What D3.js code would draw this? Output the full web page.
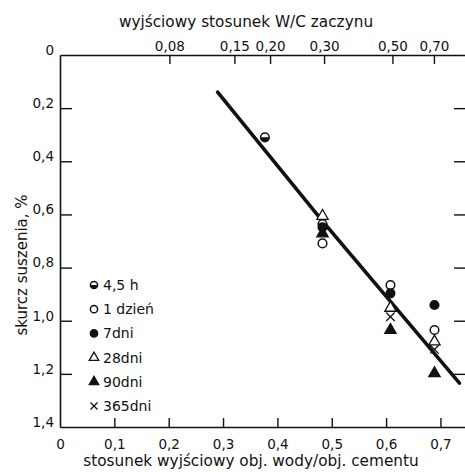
<!DOCTYPE html>
<meta charset="utf-8">
<style>
  body { margin: 0; background: #fff; }
  text { font-family: "DejaVu Sans", sans-serif; fill: #111; }
</style>
<svg width="465" height="472"></svg>
<script src="https://d3js.org/d3.v7.min.js"></script>
<script>

// bottom axis: volume ratio water/cement, top axis: initial W/C of the paste
var xTicks = [0, 0.1, 0.2, 0.3, 0.4, 0.5, 0.6, 0.7];
var yTicks = [0, 0.2, 0.4, 0.6, 0.8, 1.0, 1.2, 1.4];
var wcTicks = [0.08, 0.15, 0.20, 0.30, 0.50, 0.70];
var wcLabels = ["0,08", "0,15", "0,20", "0,30", "0,50", "0,70"];

var seriesNames = ["4,5 h", "1 dzień", "7dni", "28dni", "90dni", "365dni"];
var seriesSymbols = ["half", "open", "filled", "tri", "trifilled", "cross"];

var h45   = [[0.377, 0.31], [0.483, 0.636]];
var d1    = [[0.483, 0.709], [0.608, 0.866], [0.689, 1.035]];
var d7    = [[0.483, 0.648], [0.608, 0.897], [0.689, 0.941]];
var d28   = [[0.483, 0.606], [0.608, 0.952], [0.689, 1.079]];
var d90   = [[0.483, 0.672], [0.608, 1.035], [0.689, 1.198]];
var d365  = [[0.483, 0.662], [0.608, 0.985], [0.689, 1.108]];
var allSeries = [h45, d1, d7, d28, d90, d365];

var fitLine = [[0.29, 0.14], [0.483, 0.625], [0.735, 1.235]];

var svg = d3.select("svg");

var x = d3.scaleLinear().domain([0, 0.747]).range([60, 466]);
var y = d3.scaleLinear().domain([0, 1.4]).range([55, 427]);

// W/C (mass) -> water volume fraction of paste, cement density 3.15
function wcToX(wc) { var v = wc * 3.15; return v / (1 + v); }

var comma = function(d) { return d === 0 ? "0" : String(+d.toFixed(2)).replace(".", ","); };

// bottom axis
var gx = svg.append("g")
    .attr("transform", "translate(0," + y(1.4) + ")")
    .call(d3.axisBottom(x).tickValues(xTicks).tickSize(-9).tickSizeOuter(0).tickPadding(12).tickFormat(comma));

// top axis
var gt = svg.append("g")
    .attr("transform", "translate(0," + y(0) + ")")
    .call(d3.axisTop(x).tickValues(wcTicks.map(wcToX)).tickSize(-9).tickSizeOuter(0).tickPadding(4)
        .tickFormat(function(d, i) { return wcLabels[i]; }));

// left axis
var gy = svg.append("g")
    .attr("transform", "translate(" + x(0) + ",0)")
    .call(d3.axisLeft(y).tickValues(yTicks).tickSize(-12).tickSizeOuter(0).tickPadding(6)
        .tickFormat(function(d) { return d === 0 ? "0" : d3.format(".1f")(d).replace(".", ","); }));

// right axis (ticks only visible)
var gr = svg.append("g")
    .attr("transform", "translate(" + x(0.747) + ",0)")
    .call(d3.axisRight(y).tickValues(yTicks.slice(1, -1)).tickSize(-12).tickSizeOuter(0).tickFormat(""));

[gx, gt, gy, gr].forEach(function(g) {
  g.selectAll(".domain").attr("stroke", "#111").attr("stroke-width", 1.6);
  g.selectAll(".tick line").attr("stroke", "#111").attr("stroke-width", 1.4);
  g.selectAll(".tick text").attr("font-size", 13.5).attr("font-family", "DejaVu Sans").attr("fill", "#111");
});
gx.selectAll(".tick line").filter(function(d) { return d === 0; }).remove();
gy.selectAll(".tick line").filter(function(d) { return d === 0 || d === 1.4; }).remove();
gy.selectAll(".tick text").attr("dy", "-0.05em");

// axis titles
svg.append("text").attr("x", 246).attr("y", 27).attr("text-anchor", "middle")
    .attr("font-size", 15.3).text("wyjściowy stosunek W/C zaczynu");
svg.append("text").attr("x", 251).attr("y", 466).attr("text-anchor", "middle")
    .attr("font-size", 15.3).text("stosunek wyjściowy obj. wody/obj. cementu");
svg.append("text").attr("transform", "translate(27,265) rotate(-90)").attr("text-anchor", "middle")
    .attr("font-size", 15).text("skurcz suszenia, %");

// fitted line
svg.append("path")
    .datum(fitLine)
    .attr("d", d3.line().x(function(d) { return x(d[0]); }).y(function(d) { return y(d[1]); }))
    .attr("fill", "none").attr("stroke", "#111").attr("stroke-width", 3.6).attr("stroke-linecap", "round");

function drawSymbol(g, kind, r) {
  if (kind === "open" || kind === "filled") {
    g.append("circle").attr("r", r).attr("fill", kind === "filled" ? "#111" : "#fff")
        .attr("stroke", "#111").attr("stroke-width", 1.5);
  } else if (kind === "half") {
    g.append("circle").attr("r", r).attr("fill", "#fff").attr("stroke", "#111").attr("stroke-width", 1.5);
    g.append("path")
        .attr("d", d3.arc()({innerRadius: 0, outerRadius: r, startAngle: Math.PI / 2, endAngle: Math.PI * 1.5}))
        .attr("fill", "#111");
  } else if (kind === "tri" || kind === "trifilled") {
    g.append("path").attr("d", d3.symbol(d3.symbolTriangle, r * r * 3)())
        .attr("fill", kind === "trifilled" ? "#111" : "#fff").attr("stroke", "#111").attr("stroke-width", 1.3);
  } else {
    g.append("path").attr("d", d3.symbol(d3.symbolTimes, r * r * 2.6)())
        .attr("fill", "none").attr("stroke", "#111").attr("stroke-width", 1.3);
  }
}

// data points
allSeries.forEach(function(pts, i) {
  pts.forEach(function(p) {
    var g = svg.append("g").attr("transform", "translate(" + x(p[0]) + "," + y(p[1]) + ")");
    drawSymbol(g, seriesSymbols[i], 4.3);
  });
});

// legend
var legend = svg.append("g").attr("transform", "translate(94,285)");
seriesNames.forEach(function(name, i) {
  var row = legend.append("g").attr("transform", "translate(0," + i * 24.2 + ")");
  drawSymbol(row, seriesSymbols[i], 3.6);
  row.append("text").attr("x", 9).attr("y", 5).attr("font-size", 14).text(name);
});

</script>
